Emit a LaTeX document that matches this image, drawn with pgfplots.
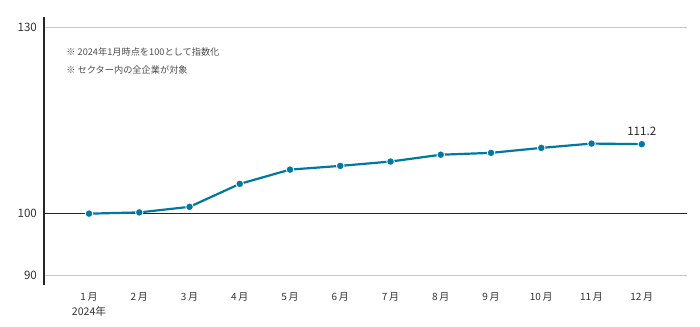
\documentclass[border=0pt]{standalone}
\usepackage{pgfplots}
\pgfplotsset{compat=1.18}
\usepackage{fontspec}
\setmainfont{Noto Sans CJK JP}
\definecolor{lineblue}{RGB}{0,120,162}
\definecolor{txt}{RGB}{51,51,51}
\begin{document}
\begin{tikzpicture}
\useasboundingbox (-22pt,-20.5pt) rectangle (328pt,142.5pt);
\begin{axis}[
  at={(0,0)}, anchor=south west,
  scale only axis, width=321.5pt, height=134pt,
  xmin=0.104, xmax=12.9, ymin=88.5, ymax=131.7,
  axis x line=none,
  axis y line*=left,
  y axis line style={draw=black!85, line width=0.6pt},
  ytick={90,130},
  extra y ticks={100},
  extra y tick style={grid style={black!85, line width=0.6pt}},
  ymajorgrids, grid style={black!22, line width=0.5pt},
  major tick length=0pt,
  yticklabel style={font=\fontsize{5.8}{6}\selectfont, text=txt},
  /pgf/number format/assume math mode=true,
  clip=false,
]
\addplot[lineblue, line width=1.1pt, mark=*, mark size=1.9pt,
  mark options={fill=lineblue, draw=white, line width=0.4pt}]
  coordinates {(1,100) (2,100.2) (3,101.1) (4,104.8) (5,107.1) (6,107.7)
  (7,108.4) (8,109.5) (9,109.8) (10,110.6) (11,111.3) (12,111.2)};
\node[above, font=\fontsize{5.8}{6}\selectfont, text=black!85, inner sep=2pt] at (axis cs:12,111.9) {111.2};
\foreach \m in {1,...,12}{
  \edef\tmp{\noexpand\node[anchor=north, font=\noexpand\fontsize{5}{5}\noexpand\selectfont, text=txt, inner sep=0pt] at (axis cs:\m,88.5) [yshift=-3.4pt] {\m\noexpand\,月};}
  \tmp
}
\node[anchor=north, font=\fontsize{5.3}{5}\selectfont, text=txt, inner sep=0pt] at (axis cs:1,88.5) [yshift=-10.6pt] {2024年};
\end{axis}
\node[anchor=west, font=\fontsize{4.6}{5}\selectfont, text=black!70, inner sep=0pt] at (11pt,116.5pt) {※ 2024年1月時点を100として指数化};
\node[anchor=west, font=\fontsize{4.6}{5}\selectfont, text=black!70, inner sep=0pt] at (11pt,107.5pt) {※ セクター内の全企業が対象};
\end{tikzpicture}
\end{document}
